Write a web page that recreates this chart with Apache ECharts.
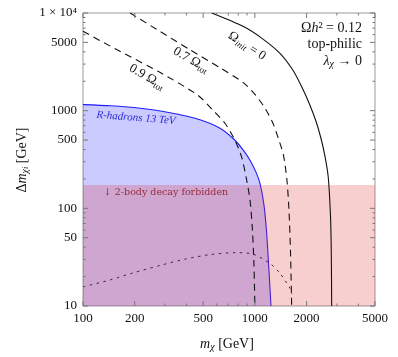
<!DOCTYPE html>
<html>
<head>
<meta charset="utf-8">
<script src="https://cdn.jsdelivr.net/npm/echarts@6/dist/echarts.min.js"></script>
<style>
html, body { margin: 0; padding: 0; background: #fff; }
#chart { width: 398px; height: 357px; }
</style>
</head>
<body>
<div id="chart"></div>
<script>
// axis range
const xMin = 100, xMax = 5000
const yMin = 10, yMax = 10000

// tick values
const xTicksMajor = [100, 200, 500, 1000, 2000, 5000]
const xTicksMinor = [300, 400, 600, 700, 800, 900, 3000, 4000]
const yTicksMajor = [10, 50, 100, 500, 1000, 5000, 10000]
const yTicksMinor = [20, 30, 40, 60, 70, 80, 90, 200, 300, 400, 600, 700, 800, 900,
  2000, 3000, 4000, 6000, 7000, 8000, 9000]
const yTickLabels = { 10: '10', 50: '50', 100: '100', 500: '500', 1000: '1000', 5000: '5000', 10000: '1 × 10⁴' }

// curves, [m_chi, delta m] in GeV
const rHadrons = [[100, 1154], [144, 1122], [215, 1058], [321, 952], [479, 807], [627, 661],
  [766, 498], [856, 394], [937, 311], [1015, 235], [1071, 180], [1130, 108], [1171, 56],
  [1203, 26], [1241, 10]]
const twoBodyLimit = [[100, 173], [5000, 173]]
const omegaInit0 = [[561, 10000], [853, 7300], [1100, 5500], [1400, 3860], [1666, 2590],
  [1879, 1735], [2092, 1136], [2267, 779], [2424, 522], [2557, 342], [2673, 208], [2753, 85],
  [2783, 37], [2798, 10]]
const omega07 = [[188, 10000], [280, 6490], [419, 4200], [627, 2750], [853, 1950], [1001, 1470],
  [1145, 1060], [1274, 743], [1381, 498], [1467, 350], [1537, 194], [1579, 96], [1611, 37], [1637, 10]]
const omega09 = [[100, 6490], [164, 4050], [280, 2470], [467, 1437], [570, 1009], [670, 743],
  [766, 498], [838, 334], [896, 194], [937, 121], [968, 60], [988, 26], [1000, 10]]
const dotted = [[100, 15.7], [144, 18.5], [195, 21.8], [280, 26], [392, 30.2], [548, 33.6],
  [766, 35.2], [975, 34], [1224, 27.3], [1400, 21.6], [1600, 15.2], [1644, 13.3]]

const serif = '"Liberation Serif", "DejaVu Serif", serif'
const tickColor = '#777'

function tickSeries(values, axis, major) {
  return {
    type: 'custom',
    coordinateSystem: 'cartesian2d',
    silent: true,
    clip: false,
    z: 20,
    data: values.map((v) => (axis === 'x' ? [v, yMin] : [xMin, v])),
    renderItem: (params, api) => {
      const len = major ? 5 : 2.5
      const children = []
      if (axis === 'x') {
        const v = api.value(0)
        const b = api.coord([v, yMin])
        const t = api.coord([v, yMax])
        children.push({ type: 'line', shape: { x1: b[0], y1: b[1], x2: b[0], y2: b[1] - len }, style: { stroke: tickColor, lineWidth: 1 } })
        children.push({ type: 'line', shape: { x1: t[0], y1: t[1], x2: t[0], y2: t[1] + len }, style: { stroke: tickColor, lineWidth: 1 } })
        if (major) {
          children.push({ type: 'text', style: { text: String(v), x: b[0], y: b[1] + 6, align: 'center', verticalAlign: 'top', textAlign: 'center', textVerticalAlign: 'top', fontSize: 13, fontFamily: serif, fill: '#111' } })
        }
      } else {
        const v = api.value(1)
        const l = api.coord([xMin, v])
        const r = api.coord([xMax, v])
        children.push({ type: 'line', shape: { x1: l[0], y1: l[1], x2: l[0] + len, y2: l[1] }, style: { stroke: tickColor, lineWidth: 1 } })
        children.push({ type: 'line', shape: { x1: r[0], y1: r[1], x2: r[0] - len, y2: r[1] }, style: { stroke: tickColor, lineWidth: 1 } })
        if (major) {
          children.push({ type: 'text', style: { text: yTickLabels[v], x: l[0] - 6, y: l[1], align: 'right', verticalAlign: 'middle', textAlign: 'right', textVerticalAlign: 'middle', fontSize: 13, fontFamily: serif, fill: '#111' } })
        }
      }
      return { type: 'group', children }
    },
  }
}

function curve(data, dash, color, width) {
  return {
    type: 'line',
    data,
    showSymbol: false,
    smooth: 0.25,
    silent: true,
    z: 5,
    lineStyle: { color: color || '#111', width: width || 1.1, type: dash || 'solid' },
  }
}

function richSet(size) {
  const sub = Math.round(size * 0.7)
  return {
    n: { fontFamily: serif, fontSize: size, fill: '#111', lineHeight: 16 },
    i: { fontFamily: serif, fontSize: size, fontStyle: 'italic', fill: '#111', lineHeight: 16 },
    s: { fontFamily: serif, fontSize: sub, fontStyle: 'italic', fill: '#111', lineHeight: 16, verticalAlign: 'bottom' },
    ss: { fontFamily: serif, fontSize: sub - 2, fontStyle: 'italic', fill: '#111', lineHeight: 14, verticalAlign: 'bottom' },
    sn: { fontFamily: serif, fontSize: sub, fill: '#111', lineHeight: 16, verticalAlign: 'bottom' },
  }
}

function label(text, x, y, rotation, align, extra, size) {
  return {
    type: 'text',
    x, y,
    rotation: rotation || 0,
    z: 30,
    silent: true,
    style: Object.assign({ text, rich: richSet(size || 13), align: align || 'center', verticalAlign: 'middle', textAlign: align || 'center', textVerticalAlign: 'middle', fontFamily: serif, fontSize: 13, fill: '#111' }, extra || {}),
  }
}

const chart = echarts.init(document.getElementById('chart'), null, { renderer: 'canvas' })
chart.setOption({
  animation: false,
  backgroundColor: '#fff',
  grid: { left: 83, right: 23, top: 13, bottom: 51, show: true, borderColor: '#999', borderWidth: 1, containLabel: false },
  xAxis: {
    type: 'log', logBase: 10, min: xMin, max: xMax,
    axisLine: { show: false }, axisTick: { show: false }, axisLabel: { show: false }, splitLine: { show: false }, minorTick: { show: false },
  },
  yAxis: {
    type: 'log', logBase: 10, min: yMin, max: yMax,
    axisLine: { show: false }, axisTick: { show: false }, axisLabel: { show: false }, splitLine: { show: false }, minorTick: { show: false },
  },
  series: [
    {
      type: 'line', data: rHadrons, showSymbol: false, smooth: 0.25, silent: true, z: 2,
      lineStyle: { color: '#1c1cff', width: 1.1 },
      areaStyle: { color: 'rgba(70,70,255,0.4)', origin: 'start' },
    },
    {
      type: 'line', data: twoBodyLimit, showSymbol: false, silent: true, z: 3,
      lineStyle: { width: 0 },
      areaStyle: { color: 'rgba(225,40,40,0.32)', origin: 'start' },
    },
    curve(omegaInit0, 'solid'),
    curve(omega07, [7, 5]),
    curve(omega09, [7, 5]),
    curve(dotted, [2.5, 4.5], '#3a2a3a', 1),
    tickSeries(xTicksMajor, 'x', true),
    tickSeries(xTicksMinor, 'x', false),
    tickSeries(yTicksMajor, 'y', true),
    tickSeries(yTicksMinor, 'y', false),
  ],
  graphic: [
    label('{n|Ω}{i|h}{n|² = 0.12}', 362, 28, 0, 'right', null, 14),
    label('{n|top-philic}', 362, 44, 0, 'right', null, 14),
    label('{i|λ}{s|χ}{n| → 0}', 362, 61, 0, 'right', null, 14),
    label('{n|Ω}{s|init}{n| = 0}', 247, 46, -0.58, 'center'),
    label('{n|0.7 Ω}{sn|tot}', 191, 60, -0.52, 'center'),
    label('{n|0.9 Ω}{sn|tot}', 147, 77, -0.52, 'center'),
    label('R-hadrons 13 TeV', 136, 118, -0.08, 'center', { fontStyle: 'italic', fontSize: 11, fill: '#2a2ad8' }),
    label('↓ 2-body decay forbidden', 166, 193, 0, 'center', { fontFamily: '"DejaVu Serif", serif', fontSize: 9.5, fill: '#9a2a3a' }),
    label('{i|m}{s|χ}{n| [GeV]}', 227, 344, 0, 'center', null, 14),
    label('{n|Δ}{i|m}{s|χ}{ss|i}{n| [GeV]}', 22, 160, Math.PI / 2, 'center', null, 14),
  ],
})
</script>
</body>
</html>
